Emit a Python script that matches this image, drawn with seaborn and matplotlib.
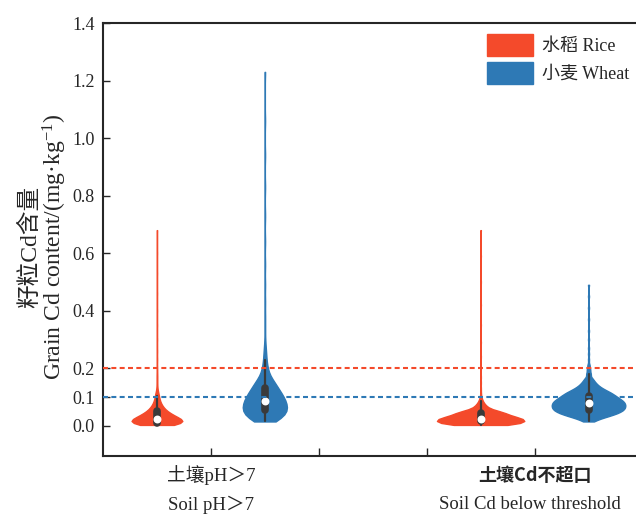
import matplotlib
matplotlib.use("Agg")
import matplotlib.pyplot as plt
import matplotlib.patches as mpatches
import matplotlib.transforms as mtransforms
import seaborn as sns
import pandas as pd
import numpy as np

groups = ["土壤pH＞7", "土壤Cd不超口"]
groups_en = ["Soil pH＞7", "Soil Cd below threshold"]
crops = ["水稻 Rice", "小麦 Wheat"]

# grain Cd (mg/kg): value and number of samples at that value
rice_ph_val = [0.003, 0.010, 0.017, 0.024, 0.031, 0.038, 0.045, 0.052, 0.060, 0.068,
               0.076, 0.085, 0.095, 0.105, 0.115,
               0.125, 0.135, 0.15, 0.165, 0.18, 0.20, 0.23, 0.26, 0.30, 0.35,
               0.40, 0.46, 0.53, 0.60, 0.68]
rice_ph_n = [30, 45, 40, 35, 28, 22, 18, 14, 12, 9,
             7, 6, 5, 4, 3,
             1, 1, 1, 1, 1, 1, 1, 1, 1, 1,
             1, 1, 1, 1, 1]

wheat_ph_val = [0.015, 0.025, 0.035, 0.045, 0.055, 0.065, 0.075, 0.085, 0.095, 0.105,
                0.115, 0.125, 0.135, 0.145, 0.155, 0.165, 0.18, 0.195, 0.21, 0.23,
                0.25, 0.27,
                0.30, 0.34, 0.38, 0.43, 0.49, 0.56, 0.64, 0.73, 0.83, 0.94,
                1.06, 1.23]
wheat_ph_n = [12, 14, 16, 19, 19, 19, 18, 17, 17, 15,
              13, 12, 10, 9, 8, 6, 5, 4, 3, 3,
              2, 2,
              1, 1, 1, 1, 1, 1, 1, 1, 1, 1,
              1, 1]

rice_cd_val = [0.003, 0.010, 0.017, 0.024, 0.031, 0.038, 0.045, 0.052, 0.060, 0.068,
               0.076, 0.085, 0.095,
               0.105, 0.115, 0.13, 0.15, 0.17, 0.20, 0.24, 0.29, 0.35, 0.42,
               0.50, 0.59, 0.68]
rice_cd_n = [55, 70, 75, 72, 58, 45, 42, 30, 17, 11,
             8, 5, 3,
             1, 1, 1, 1, 1, 1, 1, 1, 1, 1,
             1, 1, 1]

wheat_cd_val = [0.015, 0.025, 0.035, 0.045, 0.055, 0.065, 0.075, 0.085, 0.095, 0.105,
                0.115, 0.125, 0.135, 0.145, 0.155, 0.165, 0.18, 0.195, 0.21,
                0.23, 0.25, 0.27, 0.30, 0.33, 0.37, 0.41, 0.45, 0.49]
wheat_cd_n = [6, 14, 26, 36, 42, 44, 44, 42, 37, 32,
              27, 20, 14, 10, 7, 5, 4, 3, 2,
              1, 1, 1, 1, 1, 1, 1, 1, 1]

rice_limit = 0.2
wheat_limit = 0.1

yticks = [0.0, 0.1, 0.2, 0.4, 0.6, 0.8, 1.0, 1.2, 1.4]

pal = {"水稻 Rice": "#F44A2B", "小麦 Wheat": "#2E79B5"}

parts = []
for grp, crop, vals, ns in [(groups[0], crops[0], rice_ph_val, rice_ph_n),
                            (groups[0], crops[1], wheat_ph_val, wheat_ph_n),
                            (groups[1], crops[0], rice_cd_val, rice_cd_n),
                            (groups[1], crops[1], wheat_cd_val, wheat_cd_n)]:
    v = np.repeat(vals, ns)
    parts.append(pd.DataFrame({"group": grp, "crop": crop, "value": v}))
df = pd.concat(parts, ignore_index=True)

sns.set_style("ticks")
plt.rcParams['font.family'] = ['Liberation Serif', 'Noto Sans CJK SC']
plt.rcParams['mathtext.fontset'] = 'custom'
plt.rcParams['mathtext.rm'] = 'Liberation Serif'
plt.rcParams['mathtext.it'] = 'Liberation Serif:italic'
plt.rcParams['axes.unicode_minus'] = False

fig = plt.figure(figsize=(6.36, 5.14), dpi=100)
ax = fig.add_axes([103 / 636, 58 / 514, 533 / 636, 433 / 514])

# two empty slots between the groups, like the original x axis
order = [groups[0], " ", "  ", groups[1]]
sns.violinplot(data=df, x="group", y="value", hue="crop", order=order, hue_order=crops,
               palette=pal, saturation=1, width=2, gap=0.19, cut=0,
               density_norm="count", common_norm=True, bw_adjust=0.4,
               inner="box", inner_kws=dict(box_width=5.5, whis_width=1.6, marker="o"),
               linewidth=1.0, linecolor="#3a3a3a", legend=False, ax=ax)

for c in ax.collections:
    c.set_edgecolor(c.get_facecolor())

ax.axhline(rice_limit, color=pal[crops[0]], lw=1.5, ls=(0, (2.4, 1.6)), zorder=5)
ax.axhline(wheat_limit, color=pal[crops[1]], lw=1.5, ls=(0, (2.4, 1.6)), zorder=5)

ax.set_xlim(-1, 3.94)
ax.set_ylim(-0.105, 1.4)
ax.set_yticks(yticks)
ax.set_yticklabels([f"{t:.1f}" for t in yticks], fontsize=13)
ax.set_xticks(range(4))
ax.set_xticklabels([""] * 4)
ax.set_xlabel("")
ax.set_ylabel("")

for s in ["left", "bottom", "top"]:
    ax.spines[s].set_linewidth(1.5)
ax.spines["right"].set_visible(False)
ax.tick_params(axis="y", direction="in", length=5, width=1, pad=6)
ax.tick_params(axis="x", direction="in", length=6, width=1)

trans = mtransforms.blended_transform_factory(ax.transData, ax.transAxes)
ax.text(0, -0.045, groups[0], transform=trans, ha="center", va="center", fontsize=13.5)
ax.text(3, -0.045, groups[1], transform=trans, ha="center", va="center", fontsize=13,
        family=['Noto Sans CJK SC'], weight="bold")
ax.text(0, -0.112, groups_en[0], transform=trans, ha="center", va="center", fontsize=13.5)
ax.text(2.96, -0.112, groups_en[1], transform=trans, ha="center", va="center", fontsize=13.5)

fig.text(30 / 636, 0.52, "籽粒Cd含量", rotation=90, ha="center", va="center", fontsize=17)
fig.text(55 / 636, 0.52, r"Grain Cd content/(mg·kg$^{-1}$)", rotation=90,
         ha="center", va="center", fontsize=17)

handles = [mpatches.Patch(color=pal[c]) for c in crops]
ax.legend(handles, crops, loc="upper right", bbox_to_anchor=(1.0, 0.99), frameon=False,
          fontsize=13, handlelength=2.5, handleheight=1.55, labelspacing=0.3,
          handletextpad=0.55, borderaxespad=0.1, borderpad=0.25)

fig.savefig("out.png", dpi=100)
